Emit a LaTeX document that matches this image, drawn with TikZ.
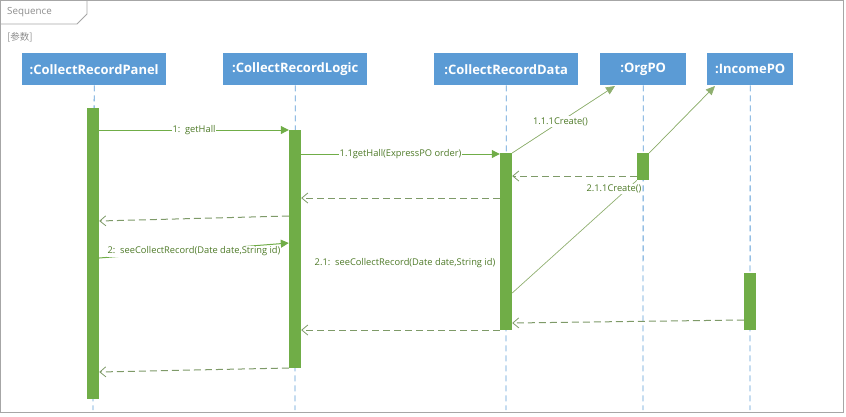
\documentclass[tikz,border=0pt]{standalone}
\usepackage{fontspec}
\setmainfont{Open Sans}
\newfontfamily\cjk{Noto Sans CJK SC}
\usetikzlibrary{arrows.meta}
\definecolor{hdr}{HTML}{5B9BD5}
\definecolor{bar}{HTML}{70AD47}
\definecolor{lbl}{HTML}{4E7A28}
\definecolor{ret}{HTML}{7E9A68}
\definecolor{diag}{HTML}{8FAF6F}
\definecolor{frm}{HTML}{A6A6A6}
\tikzset{
  x=1pt,y=-1pt,
  head/.style={fill=hdr,text=white,font=\bfseries\fontsize{13}{15}\selectfont,minimum height=32pt,inner sep=0pt,anchor=north west},
  life/.style={draw=hdr,dashed,dash pattern=on 6pt off 4pt,line width=0.8pt},
  actbar/.style={fill=bar,draw=none,minimum width=12pt,inner sep=0pt,anchor=north},
  msg/.style={draw=bar,line width=1pt,-{Triangle[length=8pt,width=8pt]}},
  retmsg/.style={draw=ret,line width=1pt,dash pattern=on 7pt off 4pt,-{Straight Barb[length=6pt,width=10pt,line width=0.8pt]}},
  thin/.style={draw=diag,line width=0.7pt},
  thinmsg/.style={thin,-{Triangle[length=9pt,width=8pt]},draw=diag,fill=bar},
  lab/.style={font=\fontsize{9.3}{11}\selectfont,text=lbl,fill=white,inner sep=1pt},
}
\begin{document}
\begin{tikzpicture}
\useasboundingbox (0,0) rectangle (846,416);
% frame
\draw[frm,line width=0.8pt] (0.5,0.5) rectangle (843,412);
\draw[frm,line width=0.8pt] (0.5,24) -- (77,24) -- (87,14) -- (87,0.5);
\node[font=\fontsize{9.8}{11}\selectfont,text=gray!90,anchor=west,inner sep=0pt] (seq) at (7,12) {Sequence};
\node[font=\cjk\fontsize{9.5}{11}\selectfont,text=gray!90,anchor=west,inner sep=0pt] (par) at (7,37) {[参数]};
% headers
\node[head,minimum width=144pt] (panel) at (22,53) {:CollectRecordPanel};
\node[head,minimum width=144pt] (logic) at (223,53) {:CollectRecordLogic};
\node[head,minimum width=144pt] (data) at (434,53) {:CollectRecordData};
\node[head,minimum width=86pt] (org) at (600,53) {:OrgPO};
\node[head,minimum width=86pt] (inc) at (707,53) {:IncomePO};
% lifelines
\coordinate (pE) at (93,410); \coordinate (lE) at (295,410); \coordinate (dE) at (506,410);
\coordinate (oE) at (643,410); \coordinate (iE) at (750,410);
\draw[life] (panel.south) -- (pE);
\draw[life] (logic.south) -- (lE);
\draw[life] (data.south) -- (dE);
\draw[life] (org.south) -- (oE);
\draw[life] (inc.south) -- (iE);
% activation bars
\node[actbar,minimum height=291pt] (pb) at (93,108) {};
\node[actbar,minimum height=238pt] (lb) at (295,130) {};
\node[actbar,minimum height=177pt] (db) at (506,153) {};
\node[actbar,minimum height=27pt] (ob) at (643,153) {};
\node[actbar,minimum height=57pt] (ib) at (750,273) {};
% messages
\draw[msg] (pb.east |- 0,130) -- node[lab]{1:\ \ getHall} (lb.west |- 0,130);
\draw[msg] (lb.east |- 0,154) -- node[lab]{1.1getHall(ExpressPO order)} (db.west |- 0,154);
\coordinate (orgIn) at (615,86);
\coordinate (incIn) at (715,86);
\draw[thinmsg] (db.north east) -- node[lab,pos=0.47]{1.1.1Create()} (orgIn);
\draw[thinmsg] (ob.north east) -- (incIn);
\draw[retmsg] (ob.west |- 0,176) -- (db.east |- 0,176);
\draw[thin] (db.east |- 0,293) -- (ob.south west);
\node[lab] (c211) at (614,189) {2.1.1Create()};
\draw[retmsg] (db.west |- 0,198) -- (lb.east |- 0,198);
\draw[retmsg] (lb.west |- 0,216) -- (pb.east |- 0,221);
\draw[msg] (pb.east |- 0,258) -- node[lab,pos=0.5,yshift=-1pt]{2:\ \ seeCollectRecord(Date date,String id)} (lb.west |- 0,243);
\node[lab] (m21) at (405,263) {2.1:\ \ seeCollectRecord(Date date,String id)};
\draw[retmsg] (ib.west |- 0,320) -- (db.east |- 0,323);
\draw[retmsg] (db.west |- 0,330) -- (lb.east |- 0,330);
\draw[retmsg] (lb.west |- 0,368) -- (pb.east |- 0,372);
\end{tikzpicture}
\end{document}
